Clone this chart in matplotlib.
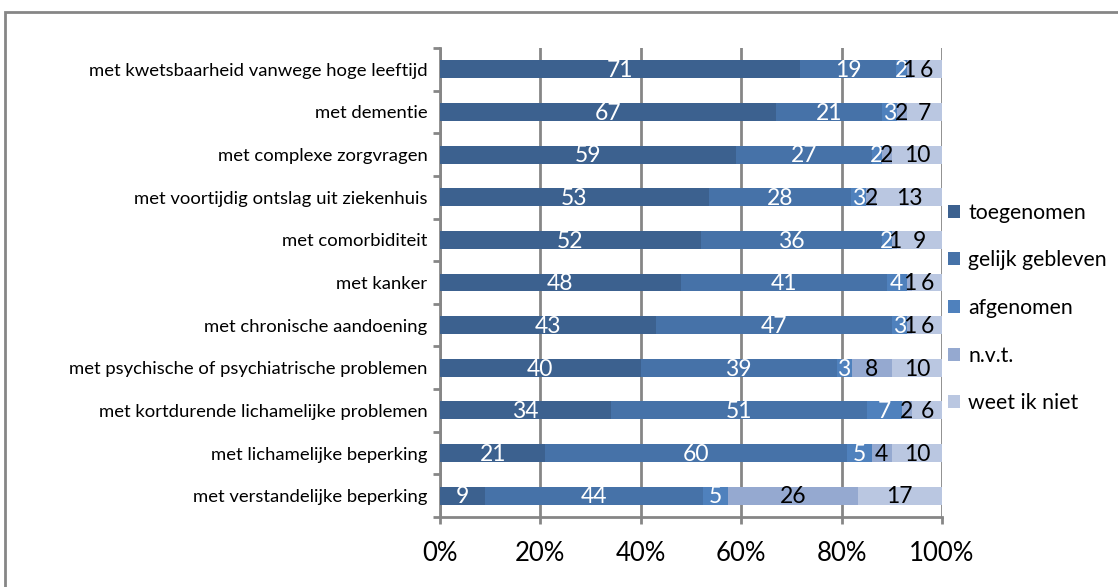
import numpy as np
import matplotlib.pyplot as plt
from matplotlib.patches import Rectangle

plt.rcParams['font.family'] = ['Lato', 'DejaVu Sans']

# data (top to bottom as shown in the chart)
categories = [
    'met kwetsbaarheid vanwege hoge leeftijd',
    'met dementie',
    'met complexe zorgvragen',
    'met voortijdig ontslag uit ziekenhuis',
    'met comorbiditeit',
    'met kanker',
    'met chronische aandoening',
    'met psychische of psychiatrische problemen',
    'met kortdurende lichamelijke problemen',
    'met lichamelijke beperking',
    'met verstandelijke beperking',
]
toegenomen = [71, 67, 59, 53, 52, 48, 43, 40, 34, 21, 9]
gelijk_gebleven = [19, 21, 27, 28, 36, 41, 47, 39, 51, 60, 44]
afgenomen = [2, 3, 2, 3, 2, 4, 3, 3, 7, 5, 5]
nvt = [1, 2, 2, 2, 1, 1, 1, 8, 2, 4, 26]
weet_ik_niet = [6, 7, 10, 13, 9, 6, 6, 10, 6, 10, 17]

series_names = ['toegenomen', 'gelijk gebleven', 'afgenomen', 'n.v.t.', 'weet ik niet']
colors = ['#3C618F', '#4672A8', '#4F81BD', '#95A9D0', '#BAC7E1']
label_colors = ['white', 'white', 'white', 'black', 'black']

series = np.array([toegenomen, gelijk_gebleven, afgenomen, nvt, weet_ik_niet], dtype=float)
shares = series / series.sum(axis=0) * 100  # 100% stacked

fig = plt.figure(figsize=(11.18, 5.87), dpi=100)
fig.patches.append(Rectangle((5 / 1118, -0.05), 1.2, 1 - 12 / 587 + 0.05,
                             transform=fig.transFigure, fill=False,
                             edgecolor='#868686', linewidth=2))
ax = fig.add_axes([440 / 1118, 1 - 517 / 587, 502 / 1118, 469 / 587])

y = np.arange(len(categories))[::-1]
left = np.zeros(len(categories))
for i in range(len(series_names)):
    ax.barh(y, shares[i], left=left, height=0.42, color=colors[i],
            label=series_names[i], zorder=3)
    for yy, l, w, v in zip(y, left, shares[i], series[i]):
        ax.text(l + w / 2, yy - 0.03, f'{int(v)}', ha='center', va='center',
                fontsize=16.5, color=label_colors[i], zorder=4)
    left += shares[i]

ax.set_xlim(0, 100)
ax.set_ylim(-0.5, len(categories) - 0.5)
ax.set_xticks(np.arange(0, 101, 20))
ax.set_xticklabels([f'{t}%' for t in range(0, 101, 20)], fontsize=18.5)
ax.set_yticks(y)
ax.set_yticklabels(categories, fontsize=13.3)
ax.set_yticks(np.arange(-0.5, len(categories), 1), minor=True)
ax.tick_params(axis='y', which='major', length=0, pad=9)
ax.tick_params(axis='y', which='minor', length=5, width=2, color='#868686')
ax.tick_params(axis='x', length=5, width=2, color='#868686', pad=12)
ax.grid(axis='x', color='#868686', linewidth=2, zorder=0)
for side in ['top', 'right']:
    ax.spines[side].set_visible(False)
for side in ['left', 'bottom']:
    ax.spines[side].set_color('#868686')
    ax.spines[side].set_linewidth(2)

fig.legend(*ax.get_legend_handles_labels(), loc='center left',
           bbox_to_anchor=(948 / 1118, 1 - 308 / 587), frameon=False,
           fontsize=15.3, handlelength=0.55, handleheight=0.55, handletextpad=0.4,
           labelspacing=1.3, borderaxespad=0, borderpad=0)

fig.savefig('out.png', dpi=100)
